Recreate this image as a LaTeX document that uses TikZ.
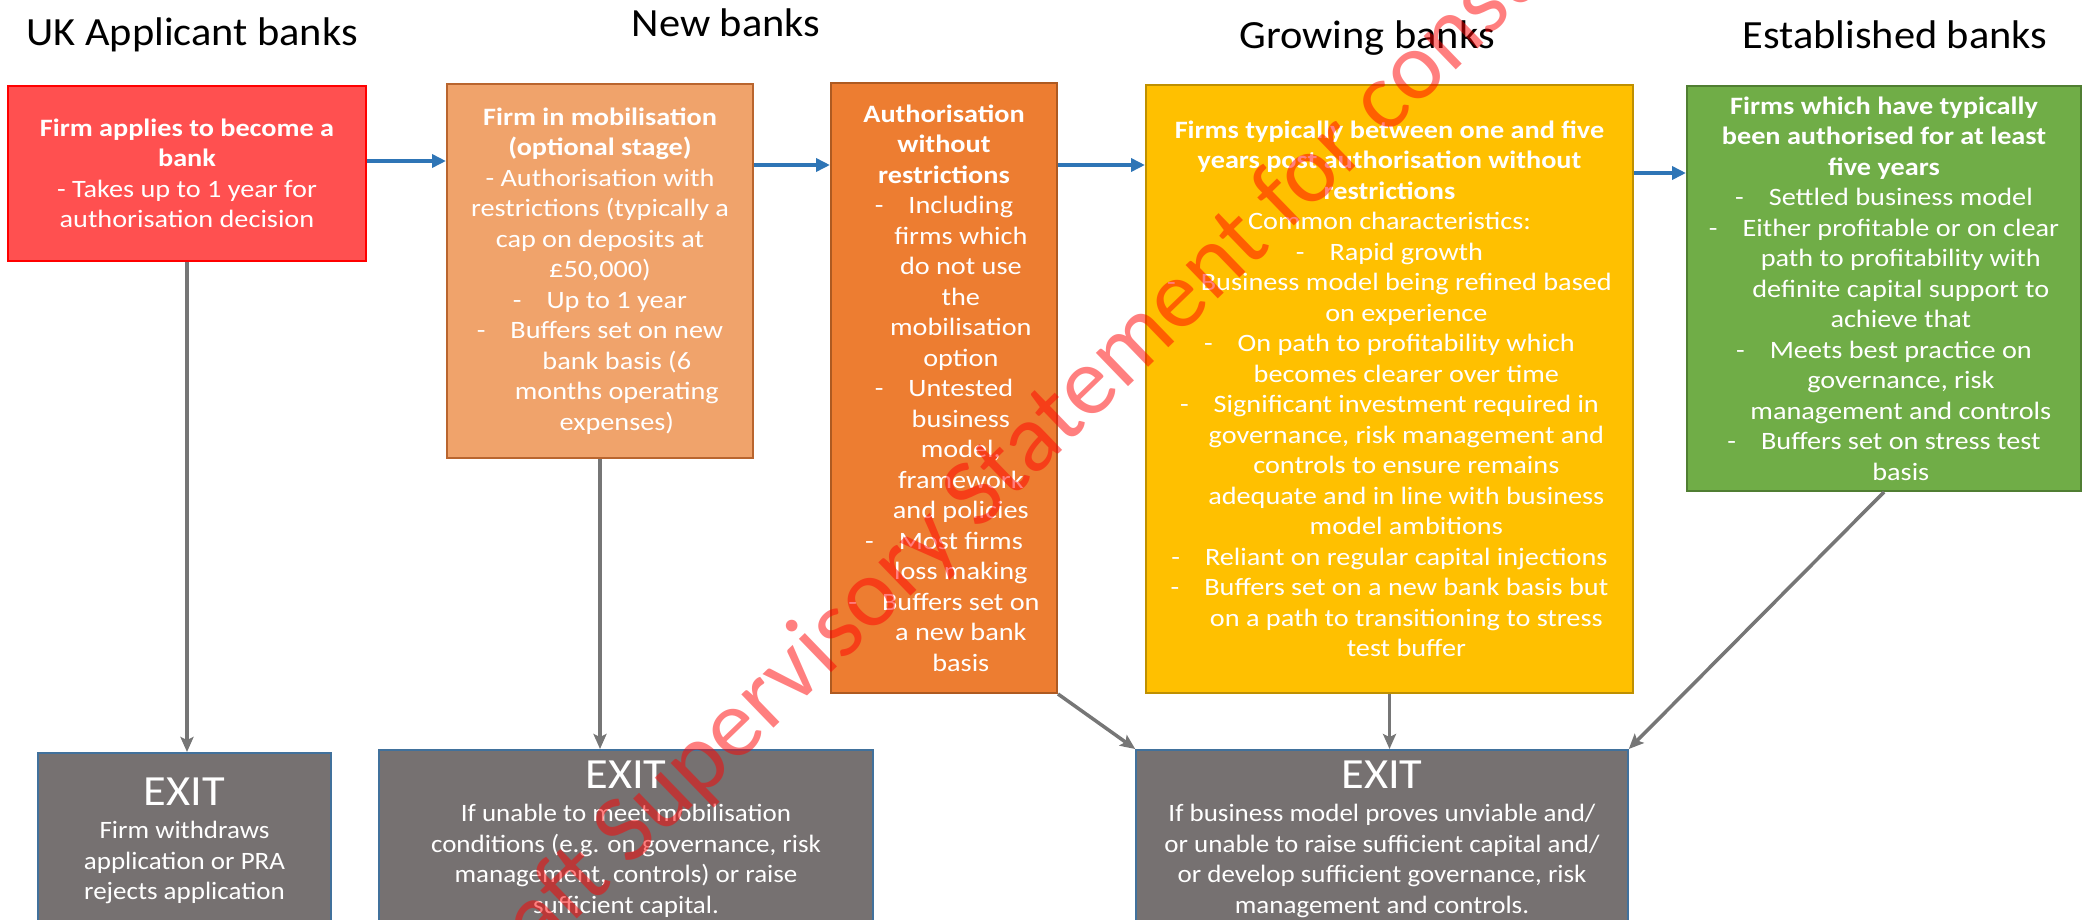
\documentclass[tikz,border=0pt]{standalone}
\usepackage{fontspec}
\setmainfont{Carlito}
\newfontfamily\titlefont{Carlito}[FakeStretch=1.06]
\newfontfamily\boxfont{Carlito}[FakeStretch=1.13]
\newfontfamily\exitfont{Carlito}[FakeStretch=1.08]
\usetikzlibrary{arrows.meta}
\definecolor{applfill}{HTML}{FF5050}
\definecolor{applline}{HTML}{FF0000}
\definecolor{mobfill}{HTML}{F0A36B}
\definecolor{mobline}{HTML}{B9652E}
\definecolor{authfill}{HTML}{ED7D31}
\definecolor{authline}{HTML}{AE5A21}
\definecolor{growfill}{HTML}{FFC000}
\definecolor{growline}{HTML}{BF9000}
\definecolor{estfill}{HTML}{70AD47}
\definecolor{estline}{HTML}{507E32}
\definecolor{exitfill}{HTML}{767171}
\definecolor{exitline}{HTML}{41719C}
\definecolor{flowblue}{HTML}{2E75B6}
\definecolor{exitgrey}{HTML}{767676}
\newcommand{\wrapind}{\phantom{-\quad}}

\begin{document}
\begin{tikzpicture}[x=1pt,y=-1pt,
    box/.style={draw,line width=2pt,align=center,text=white,inner sep=0pt,font=\boxfont\fontsize{25}{30.5}\selectfont},
    exitbox/.style={box,fill=exitfill,draw=exitline,line width=1.5pt,anchor=north,font=\exitfont\fontsize{25}{30.5}\selectfont},
    title/.style={anchor=base,font=\titlefont\fontsize{40}{48}\selectfont},
    flow/.style={draw=flowblue,line width=3.5pt,-{Triangle[length=14pt,width=13pt]}},
    exitarrow/.style={draw=exitgrey,line width=3.5pt,-{Stealth[length=15pt,width=13pt,inset=3pt]}},
    wmark/.style={text=red,text opacity=0.5,inner sep=0pt,font=\fontsize{97}{116}\selectfont}]
    \useasboundingbox(0,0)rectangle(2089,919);
    \clip(0,0)rectangle(2089,919);
    \node[title](tappl)at(192,45){UK Applicant banks};
    \node[title](tnew)at(726,36){New banks};
    \node[title](tgrow)at(1367,48){Growing banks};
    \node[title](test)at(1895,48){Established banks};
    \node[box,fill=applfill,draw=applline,minimum width=358,minimum height=175](appl)at(187,173.5){\textbf{Firm applies to become a}\\\textbf{bank}\\- Takes up to 1 year for\\authorisation decision};
    \node[box,fill=mobfill,draw=mobline,minimum width=306,minimum height=374](mob)at(600,271){\textbf{Firm in mobilisation}\\\textbf{(optional stage)}\\- Authorisation with\\restrictions (typically a\\cap on deposits at\\£50,000)\\-\quad Up to 1 year\\-\quad Buffers set on new\\\wrapind bank basis (6\\\wrapind months operating\\\wrapind expenses)};
    \node[box,fill=authfill,draw=authline,minimum width=226,minimum height=610](auth)at(944,388){\textbf{Authorisation}\\\textbf{without}\\\textbf{restrictions}\\-\quad Including\\\wrapind firms which\\\wrapind do not use\\\wrapind the\\\wrapind mobilisation\\\wrapind option\\-\quad Untested\\\wrapind business\\\wrapind model,\\\wrapind framework\\\wrapind and policies\\-\quad Most firms\\\wrapind loss making\\-\quad Buffers set on\\\wrapind a new bank\\\wrapind basis};
    \node[box,fill=growfill,draw=growline,minimum width=487,minimum height=608](grow)at(1389.5,389){\textbf{Firms typically between one and five}\\\textbf{years post authorisation without}\\\textbf{restrictions}\\Common characteristics:\\-\quad Rapid growth\\-\quad Business model being refined based\\\wrapind on experience\\-\quad On path to profitability which\\\wrapind becomes clearer over time\\-\quad Significant investment required in\\\wrapind governance, risk management and\\\wrapind controls to ensure remains\\\wrapind adequate and in line with business\\\wrapind model ambitions\\-\quad Reliant on regular capital injections\\-\quad Buffers set on a new bank basis but\\\wrapind on a path to transitioning to stress\\\wrapind test buffer};
    \node[box,fill=estfill,draw=estline,minimum width=394,minimum height=405](est)at(1884,288.5){\textbf{Firms which have typically}\\\textbf{been authorised for at least}\\\textbf{five years}\\-\quad Settled business model\\-\quad Either profitable or on clear\\\wrapind path to profitability with\\\wrapind definite capital support to\\\wrapind achieve that\\-\quad Meets best practice on\\\wrapind governance, risk\\\wrapind management and controls\\-\quad Buffers set on stress test\\\wrapind basis};
    \node[exitbox,minimum width=293,inner ysep=25.4pt](exit1)at(184.5,752){{\fontsize{43}{50}\selectfont EXIT}\\[2.5pt]Firm withdraws\\application or PRA\\rejects application};
    \node[exitbox,minimum width=494,inner ysep=11.4pt](exit2)at(626,749){{\fontsize{43}{50}\selectfont EXIT}\\[2.5pt]If unable to meet mobilisation\\conditions (e.g. on governance, risk\\management, controls) or raise\\sufficient capital.};
    \node[exitbox,minimum width=492,inner ysep=11.4pt](exit3)at(1382,749){{\fontsize{43}{50}\selectfont EXIT}\\[2.5pt]If business model proves unviable and/\\or unable to raise sufficient capital and/\\or develop sufficient governance, risk\\management and controls.};
    \draw[flow](appl.east|-0,161)--(mob.west|-0,161);
    \draw[flow](mob.east|-0,165)--(auth.west|-0,165);
    \draw[flow](auth.east|-0,165)--(grow.west|-0,165);
    \draw[flow](grow.east|-0,173)--(est.west|-0,173);
    \draw[exitarrow](appl.south)--(appl.south|-exit1.north);
    \draw[exitarrow](mob.south)--(mob.south|-exit2.north);
    \draw[exitarrow](auth.south east)--(exit3.north west);
    \draw[exitarrow](grow.south)--(grow.south|-exit3.north);
    \draw[exitarrow](est.south)--(exit3.north east);
    \node[wmark,rotate=44,anchor=base west](wm)at(472,1020){Draft Supervisory Statement for consultation};
\end{tikzpicture}
\end{document}
